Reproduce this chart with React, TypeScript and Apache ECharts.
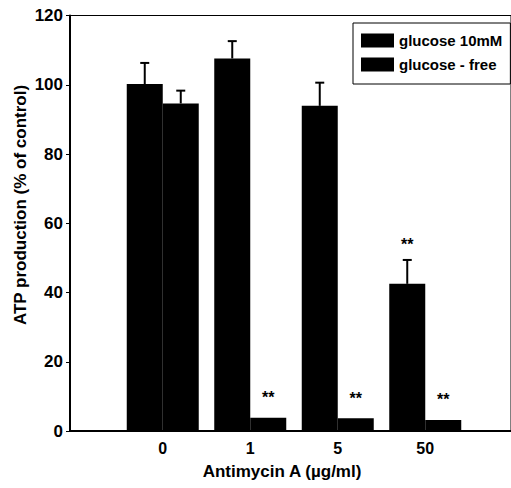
import React, { useEffect, useRef } from "react";
import * as echarts from "echarts";

const categories = ["0", "1", "5", "50"];
const glucose10 = [100.2, 107.6, 93.9, 42.5];
const glucose10Err = [106.3, 112.6, 100.6, 49.4];
const glucoseFree = [94.6, 3.8, 3.7, 3.2];
const glucoseFreeErr: (number | null)[] = [98.3, null, null, null];
const sig10 = [false, false, false, true];
const sigFree = [false, true, true, true];
const yTicks = [0, 20, 40, 60, 80, 100, 120];

const FONT = "'Liberation Sans', Arial, Helvetica, sans-serif";
const BAR_W = 36;

function errSeries(name: string, vals: number[], errs: (number | null)[], offset: number) {
  const data = vals
    .map((v, i) => (errs[i] == null ? null : [i, v, errs[i]]))
    .filter((d) => d !== null);
  return {
    type: "custom",
    name: name + "-err",
    silent: true,
    z: 5,
    data,
    renderItem: (params: any, api: any) => {
      const base = api.coord([api.value(0), api.value(1)]);
      const top = api.coord([api.value(0), api.value(2)]);
      const cx = base[0] + offset;
      return {
        type: "group",
        children: [
          {
            type: "line",
            shape: { x1: cx, y1: base[1], x2: cx, y2: top[1] },
            style: { stroke: "#000", lineWidth: 2 },
          },
          {
            type: "line",
            shape: { x1: cx - 4.5, y1: top[1], x2: cx + 4.5, y2: top[1] },
            style: { stroke: "#000", lineWidth: 2 },
          },
        ],
      };
    },
  };
}

function barData(vals: number[], sig: boolean[], distance: number) {
  return vals.map((v, i) => ({
    value: [i, v],
    label: sig[i]
      ? {
          show: true,
          position: "top",
          distance,
          formatter: "**",
          color: "#000",
          fontSize: 16,
          fontWeight: "bold",
          fontFamily: FONT,
        }
      : { show: false },
  }));
}

export default function App() {
  const ref = useRef<HTMLDivElement>(null);
  useEffect(() => {
    if (!ref.current) return;
    const chart = echarts.init(ref.current, null, { renderer: "svg" });
    chart.setOption({
      animation: false,
      backgroundColor: "#fff",
      grid: {
        left: 70,
        right: -1,
        top: 15.5,
        bottom: 57,
        show: true,
        borderColor: "#000",
        borderWidth: 1,
      },
      legend: {
        left: 353,
        top: 23,
        orient: "vertical",
        padding: [10, 8, 12, 8],
        itemWidth: 33,
        itemHeight: 14,
        itemGap: 9,
        icon: "rect",
        borderColor: "#000",
        borderWidth: 1,
        textStyle: { color: "#000", fontSize: 15, fontWeight: "bold", fontFamily: FONT },
        data: ["glucose 10mM", "glucose - free"],
      },
      xAxis: {
        type: "value",
        min: -1.06,
        max: 3.98,
        axisLine: { show: true, onZero: false, lineStyle: { color: "#000", width: 2 } },
        axisTick: { show: false },
        splitLine: { show: false },
        axisLabel: {
          customValues: [0, 1, 2, 3],
          formatter: (v: number) => categories[Math.round(v)] ?? "",
          color: "#000",
          fontSize: 16,
          fontWeight: "bold",
          fontFamily: FONT,
          margin: 9,
        },
      },
      yAxis: {
        type: "value",
        min: 0,
        max: 120,
        interval: 20,
        axisLine: { show: true, onZero: false, lineStyle: { color: "#000", width: 2 } },
        axisTick: { show: true, inside: false, length: 4, lineStyle: { color: "#000", width: 1 } },
        splitLine: { show: false },
        axisLabel: {
          color: "#000",
          fontSize: 17,
          fontWeight: "bold",
          fontFamily: FONT,
          margin: 7,
          formatter: (v: number) => (yTicks.includes(v) ? String(v) : ""),
        },
      },
      graphic: [
        {
          type: "text",
          x: 20,
          y: 205,
          rotation: Math.PI / 2,
          style: {
            text: "ATP production (% of control)",
            fill: "#000",
            fontSize: 17,
            fontWeight: "bold",
            fontFamily: FONT,
            textAlign: "center",
            textVerticalAlign: "middle",
          },
        },
        {
          type: "text",
          x: 282,
          y: 471,
          style: {
            text: "Antimycin A (\u00b5g/ml)",
            fill: "#000",
            fontSize: 17,
            fontWeight: "bold",
            fontFamily: FONT,
            textAlign: "center",
            textVerticalAlign: "middle",
          },
        },
      ],
      series: [
        {
          type: "bar",
          name: "glucose 10mM",
          barWidth: BAR_W,
          barGap: "0%",
          itemStyle: { color: "#000" },
          data: barData(glucose10, sig10, 31),
        },
        {
          type: "bar",
          name: "glucose - free",
          barWidth: BAR_W,
          barGap: "0%",
          itemStyle: { color: "#000" },
          data: barData(glucoseFree, sigFree, 12),
        },
        errSeries("glucose 10mM", glucose10, glucose10Err, -BAR_W / 2),
        errSeries("glucose - free", glucoseFree, glucoseFreeErr, BAR_W / 2),
      ],
    });
    return () => chart.dispose();
  }, []);
  return (
    <div
      ref={ref}
      style={{ position: "fixed", left: 0, top: 0, width: 511, height: 488 }}
    />
  );
}
